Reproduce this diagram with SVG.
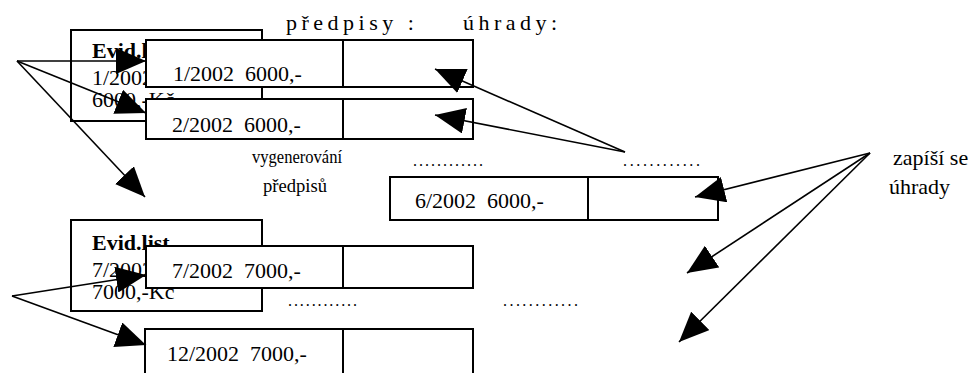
<svg xmlns="http://www.w3.org/2000/svg" width="976" height="373" viewBox="0 0 976 373">
  <style>
    text { font-family: "Liberation Serif", "DejaVu Serif", serif; fill: #000; }
    .t { font-size: 22px; }
    .b { font-size: 22px; font-weight: bold; }
    .s { font-size: 18px; }
    .dots { font-size: 16px; }
    .title { font-size: 22px; letter-spacing: 4.5px; }
    .box { fill: #fff; stroke: #000; stroke-width: 2; }
    .div { stroke: #000; stroke-width: 2; }
    .conn line { stroke: #000; stroke-width: 1.6; marker-end: url(#head); }
  </style>
  <defs>
    <marker id="head" markerUnits="userSpaceOnUse" markerWidth="30" markerHeight="26" refX="30" refY="13" orient="auto">
      <path d="M0,0 L30,13 L0,26 z" fill="#000"/>
    </marker>
  </defs>

  <rect width="976" height="373" fill="#fff"/>

  <!-- column headings -->
  <g id="headings">
    <text class="title" x="286" y="30">předpisy :</text>
    <text class="title" x="463" y="30">úhrady:</text>
  </g>

  <!-- record sheets -->
  <g id="evid-1">
    <rect class="box" x="71" y="30" width="191" height="91"/>
    <text class="b" x="92" y="58">Evid.list</text>
    <text class="t" x="92" y="85">1/2002</text>
    <text class="t" x="92" y="107">6000,-Kč</text>
  </g>
  <g id="evid-7">
    <rect class="box" x="71" y="220" width="191" height="91"/>
    <text class="b" x="92" y="250">Evid.list</text>
    <text class="t" x="92" y="277">7/2002</text>
    <text class="t" x="92" y="299">7000,-Kč</text>
  </g>

  <!-- payment rows -->
  <g id="row-1">
    <rect class="box" x="146" y="40" width="327" height="47"/>
    <line class="div" x1="343" y1="40" x2="343" y2="87"/>
    <text class="t" x="173" y="81">1/2002&#160;&#160;6000,-</text>
  </g>
  <g id="row-2">
    <rect class="box" x="146" y="99" width="327" height="40"/>
    <line class="div" x1="343" y1="99" x2="343" y2="139"/>
    <text class="t" x="172" y="132">2/2002&#160;&#160;6000,-</text>
  </g>
  <g id="row-6">
    <rect class="box" x="390" y="177" width="328" height="43"/>
    <line class="div" x1="588" y1="177" x2="588" y2="220"/>
    <text class="t" x="415" y="208">6/2002&#160;&#160;6000,-</text>
  </g>
  <g id="row-7">
    <rect class="box" x="146" y="246" width="327" height="42"/>
    <line class="div" x1="343" y1="246" x2="343" y2="288"/>
    <text class="t" x="172" y="278">7/2002&#160;&#160;7000,-</text>
  </g>
  <g id="row-12">
    <rect class="box" x="145" y="329" width="328" height="60"/>
    <line class="div" x1="343" y1="329" x2="343" y2="389"/>
    <text class="t" x="167" y="361">12/2002&#160;&#160;7000,-</text>
  </g>

  <!-- labels and ellipses -->
  <g id="label-generate">
    <text class="s" x="252" y="163" textLength="90" lengthAdjust="spacingAndGlyphs">vygenerování</text>
    <text class="s" x="263" y="192" textLength="64" lengthAdjust="spacingAndGlyphs">předpisů</text>
  </g>
  <g id="label-record">
    <text class="t" x="893" y="165">zapíší se</text>
    <text class="t" x="889" y="194">úhrady</text>
  </g>
  <g id="ellipses">
    <text class="dots" x="413" y="166" textLength="70">............</text>
    <text class="dots" x="623" y="166" textLength="77">............</text>
    <text class="dots" x="288" y="306" textLength="69">............</text>
    <text class="dots" x="503" y="306" textLength="75">............</text>
  </g>

  <!-- connectors -->
  <g id="connectors" class="conn">
    <line x1="17" y1="61" x2="146" y2="61"/>
    <line x1="17" y1="61" x2="146" y2="113"/>
    <line x1="17" y1="61" x2="145" y2="197"/>
    <line x1="12" y1="296" x2="146" y2="275"/>
    <line x1="12" y1="296" x2="146" y2="345"/>
    <line x1="625" y1="152" x2="435" y2="69"/>
    <line x1="625" y1="152" x2="435" y2="115"/>
    <line x1="870" y1="153" x2="695" y2="197"/>
    <line x1="870" y1="153" x2="687" y2="273"/>
    <line x1="870" y1="153" x2="679" y2="342"/>
  </g>
</svg>
